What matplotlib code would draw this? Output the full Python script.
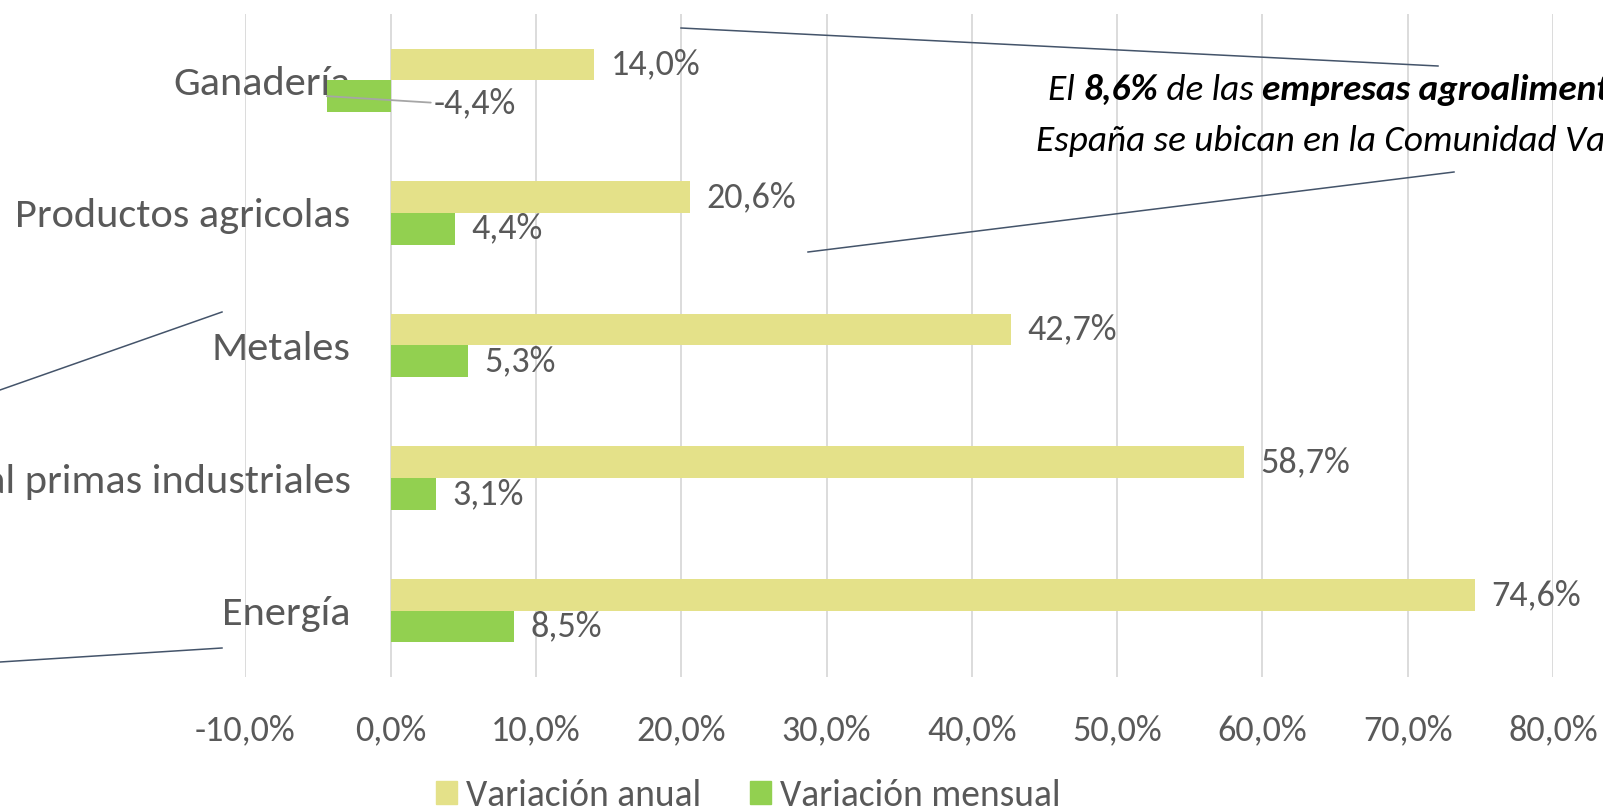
import matplotlib
matplotlib.use("Agg")
import matplotlib.pyplot as plt
import numpy as np
from matplotlib import font_manager
from matplotlib.lines import Line2D
from matplotlib.patches import Patch

categorias = ["Ganadería", "Productos agricolas", "Metales",
              "Material primas industriales", "Energía"]
variacion_anual = [14.0, 20.6, 42.7, 58.7, 74.6]
variacion_mensual = [-4.4, 4.4, 5.3, 3.1, 8.5]
series = ["Variación anual", "Variación mensual"]
ticks_x = np.arange(-10, 81, 10)

# fuente parecida a Calibri, si hay alguna
disponibles = {f.name for f in font_manager.fontManager.ttflist}
fuente = next((f for f in ["Carlito", "Liberation Sans Narrow", "Lato"] if f in disponibles), "DejaVu Sans")
plt.rcParams["font.family"] = [fuente, "DejaVu Sans"]

GRIS = "#595959"
C_ANUAL = "#E4E189"
C_MENSUAL = "#92D050"
LINEA = "#44546A"

def fmt(v):
    return f"{v:.1f}".replace(".", ",") + "%"

fig = plt.figure(figsize=(16.03, 8.09), dpi=100)
ax = fig.add_axes([0.1531, 0.1632, 0.8157, 0.8195])
# las etiquetas de categoría van pegadas al eje 0, como en Excel
ax.spines["left"].set_position(("data", 0))

y = np.arange(len(categorias))
h = 0.239
ax.barh(y - h / 2, variacion_anual, height=h, color=C_ANUAL, zorder=2)
ax.barh(y + h / 2, variacion_mensual, height=h, color=C_MENSUAL, zorder=2)

ax.set_xlim(-10, 80)
ax.set_ylim(len(categorias) - 0.5, -0.5)
ax.set_xticks(ticks_x)
ax.set_xticklabels([fmt(t) for t in ticks_x], fontsize=26, color=GRIS)
ax.set_yticks(y)
ax.set_yticklabels(categorias, fontsize=30.5, color=GRIS)
ax.tick_params(axis="both", length=0)
ax.tick_params(axis="x", pad=27)
ax.tick_params(axis="y", pad=29)
ax.grid(True, axis="x", color="#D9D9D9", linewidth=1.3, zorder=0)
ax.set_axisbelow(True)
for s in ["top", "right", "bottom", "left"]:
    ax.spines[s].set_visible(False)

# etiquetas de datos
for yi, v in zip(y, variacion_anual):
    ax.annotate(fmt(v), (v, yi - h / 2), xytext=(12, 0), textcoords="offset points",
                va="center", ha="left", fontsize=26, color=GRIS)
for yi, v in zip(y, variacion_mensual):
    if v < 0:
        # etiqueta desplazada con línea guía, como en el original
        ax.annotate(fmt(v), (v, yi + h / 2), xytext=(2.95, yi + h / 2 + 0.05),
                    textcoords="data", va="center", ha="left",
                    fontsize=26, color=GRIS,
                    arrowprops=dict(arrowstyle="-", color="#A6A6A6", lw=1.3,
                                    shrinkA=0, shrinkB=0, relpos=(0, 0.5)))
    else:
        ax.annotate(fmt(v), (v, yi + h / 2), xytext=(12, 0), textcoords="offset points",
                    va="center", ha="left", fontsize=26, color=GRIS)

fig.legend(handles=[Patch(color=C_ANUAL), Patch(color=C_MENSUAL)], labels=series,
           loc="center", bbox_to_anchor=(0.467, 0.017), ncol=2, frameon=False,
           fontsize=27, labelcolor=GRIS, handlelength=0.55, handleheight=0.55,
           handletextpad=0.25, columnspacing=1.3)

# líneas sueltas de formas del documento original (px, desde arriba)
lineas = [((681, 28), (1438, 66)), ((808, 252), (1454, 172)),
          ((0, 390), (222, 312)), ((0, 662), (222, 648))]
H = 809
for (x0, y0), (x1, y1) in lineas:
    fig.add_artist(Line2D([x0 / 1603, x1 / 1603], [1 - y0 / H, 1 - y1 / H],
                          transform=fig.transFigure, color=LINEA, lw=1.1))

# texto del cuadro superior, recortado por el borde
partes1 = [("El ", "normal"), ("8,6%", "bold"), (" de las ", "normal"),
           ("empresas agroalimentarias de", "bold")]
t = ax.annotate(partes1[0][0], (1048, H - 90), xycoords="figure pixels", fontsize=26.8,
                style="italic", weight=partes1[0][1], va="center", ha="left",
                annotation_clip=False)
for texto, peso in partes1[1:]:
    t = ax.annotate(texto, (1, 0), xycoords=t, fontsize=26.8, style="italic",
                    weight=peso, va="bottom", ha="left", annotation_clip=False)
ax.annotate("España se ubican en la Comunidad Valenciana", (1036, H - 141),
            xycoords="figure pixels", fontsize=26.8, style="italic", va="center",
            ha="left", annotation_clip=False)

fig.savefig("out.png", dpi=100)
